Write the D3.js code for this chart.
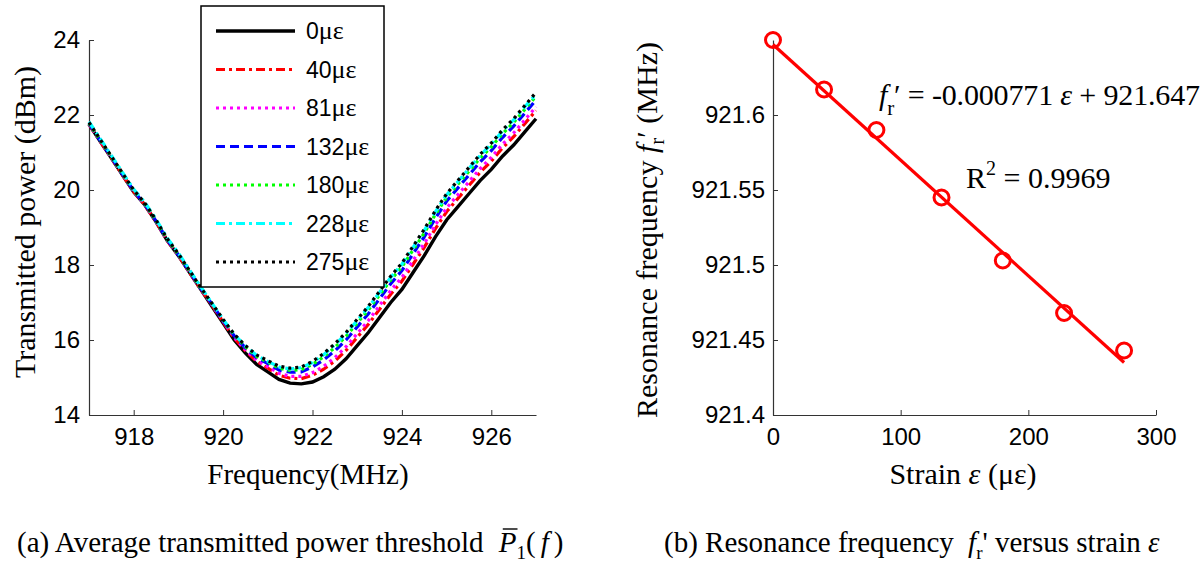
<!DOCTYPE html>
<html>
<head>
<meta charset="utf-8">
<script src="https://cdn.jsdelivr.net/npm/d3@7"></script>
<style>
	body { margin: 0; background: #fff; }
	svg { display: block; }
	.tick text { font-family: "Liberation Sans", Arial, sans-serif; font-size: 24px; fill: #000; }
	.serif { font-family: "Liberation Serif", "Times New Roman", serif; }
</style>
</head>
<body>
<svg id="chart" width="1204" height="563"></svg>
<script>
// ---- (a) transmitted power vs frequency ----
const freqs = [
	917, 917.25, 917.5, 917.75, 918, 918.25, 918.5, 918.75, 919, 919.25,
	919.5, 919.75, 920, 920.25, 920.5, 920.75, 921, 921.25, 921.5, 921.75,
	922, 922.25, 922.5, 922.75, 923, 923.25, 923.5, 923.75, 924, 924.25,
	924.5, 924.75, 925, 925.25, 925.5, 925.75, 926, 926.25, 926.5, 926.75, 927
];
const p0 = [
	21.75, 21.3, 20.85, 20.4, 19.95, 19.6, 19.15, 18.65, 18.25, 17.8,
	17.35, 16.9, 16.45, 16.0, 15.65, 15.35, 15.15, 14.95, 14.85, 14.83,
	14.88, 15.02, 15.22, 15.5, 15.85, 16.2, 16.6, 17.0, 17.35, 17.8,
	18.25, 18.75, 19.2, 19.55, 19.9, 20.25, 20.55, 20.9, 21.2, 21.55, 21.9
];
const p40 = [
	21.75, 21.3, 20.85, 20.4, 19.95, 19.6, 19.15, 18.65, 18.25, 17.8,
	17.35, 16.93, 16.48, 16.05, 15.71, 15.43, 15.25, 15.06, 14.98, 14.97,
	15.06, 15.22, 15.44, 15.72, 16.07, 16.42, 16.82, 17.22, 17.57, 18.02,
	18.47, 18.97, 19.42, 19.77, 20.12, 20.47, 20.77, 21.12, 21.42, 21.77, 22.12
];
const p81 = [
	21.76, 21.31, 20.86, 20.41, 19.96, 19.61, 19.16, 18.66, 18.26, 17.81,
	17.36, 16.94, 16.5, 16.07, 15.74, 15.46, 15.29, 15.11, 15.03, 15.03,
	15.13, 15.3, 15.53, 15.82, 16.17, 16.52, 16.92, 17.32, 17.67, 18.12,
	18.57, 19.07, 19.52, 19.87, 20.22, 20.57, 20.87, 21.22, 21.52, 21.87, 22.22
];
const p132 = [
	21.77, 21.32, 20.87, 20.42, 19.97, 19.62, 19.17, 18.67, 18.27, 17.82,
	17.37, 16.96, 16.52, 16.11, 15.79, 15.53, 15.37, 15.2, 15.14, 15.15,
	15.28, 15.47, 15.71, 16.0, 16.35, 16.7, 17.1, 17.5, 17.85, 18.3,
	18.75, 19.25, 19.7, 20.05, 20.4, 20.75, 21.05, 21.4, 21.7, 22.05, 22.4
];
const p180 = [
	21.78, 21.33, 20.88, 20.43, 19.98, 19.63, 19.18, 18.68, 18.28, 17.83,
	17.38, 16.97, 16.54, 16.13, 15.82, 15.56, 15.41, 15.25, 15.19, 15.21,
	15.35, 15.55, 15.8, 16.1, 16.45, 16.8, 17.2, 17.6, 17.95, 18.4,
	18.85, 19.35, 19.8, 20.15, 20.5, 20.85, 21.15, 21.5, 21.8, 22.15, 22.5
];
const p228 = [
	21.82, 21.37, 20.92, 20.47, 20.02, 19.67, 19.22, 18.72, 18.32, 17.87,
	17.42, 16.98, 16.55, 16.15, 15.84, 15.59, 15.43, 15.28, 15.23, 15.26,
	15.4, 15.61, 15.87, 16.17, 16.52, 16.87, 17.27, 17.67, 18.02, 18.47,
	18.92, 19.42, 19.87, 20.22, 20.57, 20.92, 21.22, 21.57, 21.87, 22.22, 22.55
];
const p275 = [
	21.8, 21.35, 20.9, 20.45, 20.0, 19.65, 19.2, 18.7, 18.3, 17.85,
	17.4, 16.98, 16.55, 16.15, 15.85, 15.6, 15.45, 15.3, 15.25, 15.28,
	15.43, 15.64, 15.9, 16.2, 16.55, 16.9, 17.3, 17.7, 18.05, 18.5,
	18.95, 19.45, 19.9, 20.25, 20.6, 20.95, 21.25, 21.6, 21.9, 22.25, 22.6
];
const seriesNames = ['0', '40', '81', '132', '180', '228', '275'];
const seriesValues = [p0, p40, p81, p132, p180, p228, p275];
const seriesColors = ['#000000', '#ff0000', '#ff00ff', '#0000ff', '#00ff00', '#00ffff', '#000000'];
const seriesDashes = [null, '9,4,3,4', '3,4', '9,5', '3,4', '9,4,3,4', '3,4'];
const powerTicks = [14, 16, 18, 20, 22, 24];
const freqTicks = [918, 920, 922, 924, 926];

// ---- (b) resonance frequency vs strain ----
const strain = [0, 40, 81, 132, 180, 228, 275];
const resFreq = [921.65, 921.617, 921.59, 921.545, 921.503, 921.468, 921.443];
const fitSlope = -0.000771;
const fitIntercept = 921.647;
const resTicks = [921.4, 921.45, 921.5, 921.55, 921.6];
const strainTicks = [0, 100, 200, 300];

const svg = d3.select('#chart');
const AXIS = '#333';

const x1 = d3.scaleLinear().domain([917, 927]).range([89, 536]);
const y1 = d3.scaleLinear().domain([14, 24]).range([415, 40]);
const x2 = d3.scaleLinear().domain([0, 300]).range([773, 1156]);
const y2 = d3.scaleLinear().domain([921.4, 921.65]).range([415, 40]);

function styleAxis(g) {
	g.select('.domain').attr('stroke', AXIS).attr('stroke-width', 1.2);
	g.selectAll('.tick line').attr('stroke', AXIS);
	g.selectAll('.tick text').attr('font-family', null).attr('font-size', null);
}

// axes (a)
svg.append('g')
	.attr('transform', 'translate(89,0)')
	.call(d3.axisLeft(y1).tickValues(powerTicks).tickFormat(d3.format('d'))
		.tickSizeInner(-5).tickSizeOuter(0).tickPadding(9))
	.call(styleAxis);
svg.append('g')
	.attr('transform', 'translate(0,415)')
	.call(d3.axisBottom(x1).tickValues(freqTicks).tickFormat(d3.format('d'))
		.tickSizeInner(-5).tickSizeOuter(0).tickPadding(13))
	.call(styleAxis);

// curves (a)
const line1 = d3.line()
	.x((d, i) => x1(freqs[i]))
	.y(d => y1(d));
svg.append('g').classed('curves', true)
	.selectAll('path')
	.data(seriesValues)
	.join('path')
	.attr('d', line1)
	.attr('fill', 'none')
	.attr('stroke', (d, i) => seriesColors[i])
	.attr('stroke-width', (d, i) => i === 0 ? 3.4 : 3.2)
	.attr('stroke-dasharray', (d, i) => seriesDashes[i]);

// legend (a)
const legend = svg.append('g').classed('legend', true);
legend.append('rect')
	.attr('x', 201).attr('y', 6)
	.attr('width', 183).attr('height', 281)
	.attr('fill', '#fff')
	.attr('stroke', '#000')
	.attr('stroke-width', 1.5);
const legendRow = legend.selectAll('g.row')
	.data(seriesNames)
	.join('g')
	.classed('row', true)
	.attr('transform', (d, i) => `translate(0,${31 + i * 38.5})`);
legendRow.append('line')
	.attr('x1', 216).attr('x2', 295)
	.attr('stroke', (d, i) => seriesColors[i])
	.attr('stroke-width', (d, i) => i === 0 ? 3.4 : 3.2)
	.attr('stroke-dasharray', (d, i) => seriesDashes[i]);
const legendText = legendRow.append('text')
	.attr('x', 306).attr('y', 8)
	.attr('font-family', '"Liberation Sans", Arial, sans-serif')
	.attr('font-size', 23);
legendText.append('tspan').text(d => d);
legendText.append('tspan').attr('class', 'serif').attr('font-size', 26).text('\u03bc\u03b5');

// axes (b)
svg.append('g')
	.attr('transform', 'translate(773,0)')
	.call(d3.axisLeft(y2).tickValues(resTicks).tickFormat(d => String(+d.toFixed(2)))
		.tickSizeInner(-5).tickSizeOuter(0).tickPadding(8))
	.call(styleAxis);
svg.append('g')
	.attr('transform', 'translate(0,415)')
	.call(d3.axisBottom(x2).tickValues(strainTicks).tickFormat(d3.format('d'))
		.tickSizeInner(-5).tickSizeOuter(0).tickPadding(13))
	.call(styleAxis);

// fit line + points (b)
const fitEnds = [strain[0], strain[strain.length - 1]];
svg.append('path')
	.datum(fitEnds)
	.attr('d', d3.line().x(d => x2(d)).y(d => y2(fitSlope * d + fitIntercept)))
	.attr('fill', 'none')
	.attr('stroke', '#ff0000')
	.attr('stroke-width', 3.2);
svg.append('g')
	.selectAll('circle')
	.data(strain)
	.join('circle')
	.attr('cx', d => x2(d))
	.attr('cy', (d, i) => y2(resFreq[i]))
	.attr('r', 7.5)
	.attr('fill', 'none')
	.attr('stroke', '#ff0000')
	.attr('stroke-width', 3);

// labels
const serif = '"Liberation Serif", "Times New Roman", serif';
function label(x, y, size, anchor) {
	return svg.append('text')
		.attr('x', x).attr('y', y)
		.attr('font-family', serif)
		.attr('font-size', size)
		.attr('text-anchor', anchor || 'start')
		.attr('fill', '#000');
}

// (a) axis titles
label(0, 0, 30, 'middle')
	.attr('transform', 'translate(35,222) rotate(-90)')
	.text('Transmitted power (dBm)');
label(308, 484, 29, 'middle').text('Frequency(MHz)');

// (b) axis titles
const yl2 = label(0, 0, 30, 'middle')
	.attr('transform', 'translate(657,230) rotate(-90)');
yl2.append('tspan').text('Resonance frequency ');
yl2.append('tspan').attr('font-style', 'italic').text('f');
yl2.append('tspan').attr('font-size', 21).attr('dy', 7).text('r');
yl2.append('tspan').attr('dy', -7).text('\u2032 (MHz)');

const xl2 = label(963, 484, 30, 'middle');
xl2.append('tspan').text('Strain ');
xl2.append('tspan').attr('font-style', 'italic').text('\u03b5');
xl2.append('tspan').text(' (\u03bc\u03b5)');

// (b) annotations
const eq = label(879, 105, 30)
	.attr('textLength', 321)
	.attr('lengthAdjust', 'spacing');
eq.append('tspan').attr('font-style', 'italic').text('f');
eq.append('tspan').attr('font-size', 21).attr('dy', 10).text('r');
eq.append('tspan').attr('dy', -10).text('\u2032 = -0.000771 ');
eq.append('tspan').attr('font-style', 'italic').text('\u03b5');
eq.append('tspan').text(' + 921.647');

const r2 = label(966, 188, 30);
r2.append('tspan').text('R');
r2.append('tspan').attr('font-size', 20).attr('dy', -13).text('2');
r2.append('tspan').attr('dy', 13).text(' = 0.9969');

// captions
const capA = label(17, 552, 29);
const capAPre = '(a) Average transmitted power threshold ';
capA.append('tspan').text(capAPre);
capA.append('tspan').attr('font-style', 'italic').attr('dx', 8).text('P');
capA.append('tspan').attr('font-size', 19).attr('dy', 7).text('1');
capA.append('tspan').attr('dy', -7).text('(');
capA.append('tspan').attr('font-style', 'italic').attr('dx', 5).text('f');
capA.append('tspan').attr('dx', 5).text(')');
const pBox = capA.node().getExtentOfChar(capAPre.length);
svg.append('line')
	.attr('x1', pBox.x + 4).attr('x2', pBox.x + pBox.width + 1)
	.attr('y1', pBox.y + 3).attr('y2', pBox.y + 3)
	.attr('stroke', '#000').attr('stroke-width', 1.4);

const capB = label(664, 552, 29);
capB.append('tspan').text('(b) Resonance frequency ');
capB.append('tspan').attr('font-style', 'italic').attr('dx', 7).text('f');
capB.append('tspan').attr('font-size', 19).attr('dy', 7).text('r');
capB.append('tspan').attr('dy', -7).text("' versus strain ");
capB.append('tspan').attr('font-style', 'italic').text('\u03b5');
</script>
</body>
</html>
